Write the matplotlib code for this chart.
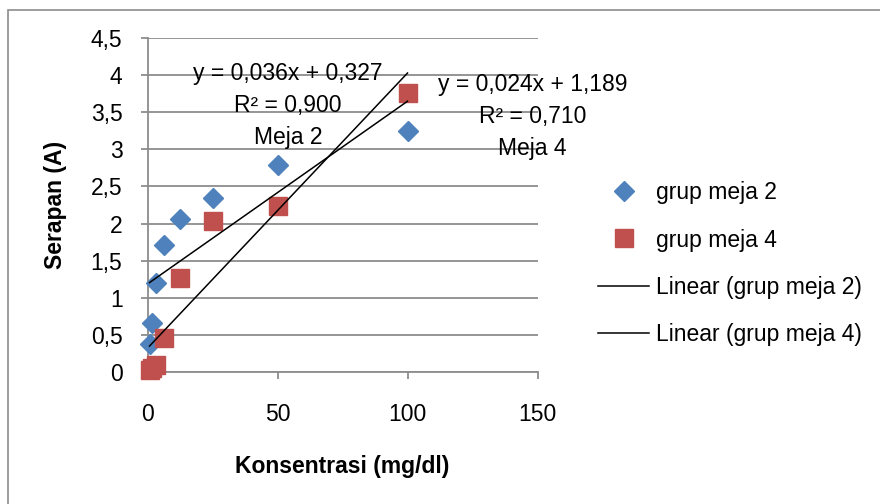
import numpy as np
import matplotlib
matplotlib.use("Agg")
import matplotlib.pyplot as plt
from matplotlib.patches import Rectangle

plt.rcParams['font.family'] = ['Liberation Sans', 'DejaVu Sans']

# concentrations (mg/dl) and absorbance readings
konsentrasi = [0.78, 1.56, 3.125, 6.25, 12.5, 25, 50, 100]
serapan_meja2 = [0.38, 0.66, 1.20, 1.71, 2.06, 2.34, 2.79, 3.25]
serapan_meja4 = [0.03, 0.05, 0.10, 0.46, 1.27, 2.04, 2.24, 3.76]

y_ticks = [0, 0.5, 1, 1.5, 2, 2.5, 3, 3.5, 4, 4.5]
y_ticklabels = ['0', '0,5', '1', '1,5', '2', '2,5', '3', '3,5', '4', '4,5']
x_ticks = [0, 50, 100, 150]

label_meja2 = 'y = 0,024x + 1,189\nR² = 0,710\nMeja 4'
label_meja4 = 'y = 0,036x + 0,327\nR² = 0,900\nMeja 2'

blue = '#4F81BD'
red = '#C0504D'
grid_gray = '#8C8C8C'
fs = 16.5

fig = plt.figure(figsize=(8.8, 5.04), dpi=100)
fig.patch.set_facecolor('white')

# outer chart border (runs off right and bottom edges)
fig.patches.append(Rectangle((8 / 880, -0.1), 1.0, 1 - 10 / 504 + 0.1,
                             transform=fig.transFigure, fill=False,
                             edgecolor=grid_gray, linewidth=1.2))

ax = fig.add_axes([147.5 / 880, 1 - 372 / 504, 390 / 880, 334 / 504])

x = np.array(konsentrasi)
p2 = np.polyfit(x, serapan_meja2, 1)
p4 = np.polyfit(x, serapan_meja4, 1)
xs = np.array([x.min(), x.max()])

ax.plot(x, serapan_meja2, linestyle='none', marker='D', markersize=10.5,
        color=blue, label='grup meja 2', clip_on=False, zorder=3)
ax.plot(x, serapan_meja4, linestyle='none', marker='s', markersize=13,
        color=red, label='grup meja 4', clip_on=False, zorder=3)
ax.plot(xs, np.polyval(p2, xs), color='black', lw=1.1,
        label='Linear (grup meja 2)', zorder=4)
ax.plot(xs, np.polyval(p4, xs), color='black', lw=1.1,
        label='Linear (grup meja 4)', zorder=4)

ax.set_xlim(0, 150)
ax.set_ylim(0, 4.5)
ax.set_xticks(x_ticks)
ax.set_xticklabels([str(t) for t in x_ticks])
ax.set_yticks(y_ticks)
ax.set_yticklabels(y_ticklabels)
ax.yaxis.grid(True, color=grid_gray, lw=1.3)
ax.set_axisbelow(True)

for s in ['top', 'right']:
    ax.spines[s].set_visible(False)
for s in ['left', 'bottom']:
    ax.spines[s].set_color(grid_gray)
    ax.spines[s].set_linewidth(1.3)
ax.tick_params(colors=grid_gray, labelcolor='black', labelsize=fs,
               length=5, width=1.3)
ax.tick_params(axis='x', pad=17)
ax.tick_params(axis='y', pad=13)

ax.set_xlabel('Konsentrasi (mg/dl)', fontsize=fs, fontweight='bold', labelpad=21)
ax.set_ylabel('Serapan (A)', fontsize=fs, fontweight='bold', labelpad=17)

ax.text(148, 3.44, label_meja2, fontsize=fs, ha='center', va='center',
        multialignment='center', linespacing=1.5, zorder=5)
ax.text(54, 3.585, label_meja4, fontsize=fs, ha='center', va='center',
        multialignment='center', linespacing=1.5, zorder=5)

fig.legend(loc='upper left', bbox_to_anchor=(587 / 880, 1 - 170 / 504),
           frameon=False, fontsize=fs, labelspacing=1.05, handlelength=2.2,
           handletextpad=0.3, borderpad=0)

plt.savefig('out.png', dpi=100, facecolor='white')
